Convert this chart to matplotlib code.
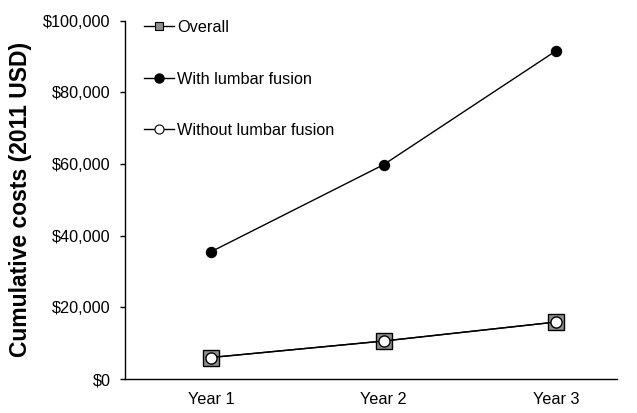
import matplotlib
matplotlib.use('Agg')
import matplotlib.pyplot as plt
from matplotlib.lines import Line2D
from matplotlib.ticker import FuncFormatter

plt.rcParams['font.family'] = ['Liberation Sans', 'DejaVu Sans']

years = ['Year 1', 'Year 2', 'Year 3']
overall = [6000, 10600, 15900]
with_fusion = [35500, 59800, 91600]
without_fusion = [6000, 10600, 15900]
yticks = [0, 20000, 40000, 60000, 80000, 100000]

x = [1, 2, 3]
fig = plt.figure(figsize=(6.37, 4.13), dpi=100)
ax = fig.add_axes([0.196, 0.0823, 0.773, 0.8677])

ax.plot(x, overall, color='black', lw=1.0, marker='s', ms=11.5,
        mfc='#8f8f8f', mec='black', mew=1.0, zorder=2)
ax.plot(x, with_fusion, color='black', lw=1.0, marker='o', ms=7.2,
        mfc='black', mec='black', zorder=3)
ax.plot(x, without_fusion, color='black', lw=1.0, marker='o', ms=8.0,
        mfc='white', mec='black', mew=1.0, zorder=3)

ax.set_xlim(0.501, 3.354)
ax.set_ylim(0, 100000)
ax.set_xticks(x)
ax.set_xticklabels(years)
ax.set_yticks(yticks)
ax.yaxis.set_major_formatter(FuncFormatter(lambda v, p: f'${v:,.0f}'))
ax.tick_params(axis='x', length=0, pad=9, labelsize=11.7)
ax.tick_params(axis='y', length=3.6, width=1.0, pad=6.5, labelsize=11.7, direction='out')
for s in ['top', 'right']:
    ax.spines[s].set_visible(False)
for s in ['left', 'bottom']:
    ax.spines[s].set_linewidth(1.0)

ax.set_ylabel('Cumulative costs (2011 USD)', fontsize=16.5, fontweight='bold', labelpad=8)

handles = [
    Line2D([], [], color='black', lw=1.0, marker='s', ms=6, mfc='#8f8f8f', mec='black', mew=0.8),
    Line2D([], [], color='black', lw=1.0, marker='o', ms=6.5, mfc='black', mec='black'),
    Line2D([], [], color='black', lw=1.0, marker='o', ms=6.5, mfc='white', mec='black', mew=0.8),
]
labels = ['Overall', 'With lumbar fusion', 'Without lumbar fusion']
fig.legend(handles, labels, loc='upper left', bbox_to_anchor=(144 / 637, 1 - 20 / 413),
           frameon=False, fontsize=11.7, handlelength=1.85, handletextpad=0.2,
           labelspacing=2.25, borderpad=0, borderaxespad=0)

fig.savefig('out.png', dpi=100)
